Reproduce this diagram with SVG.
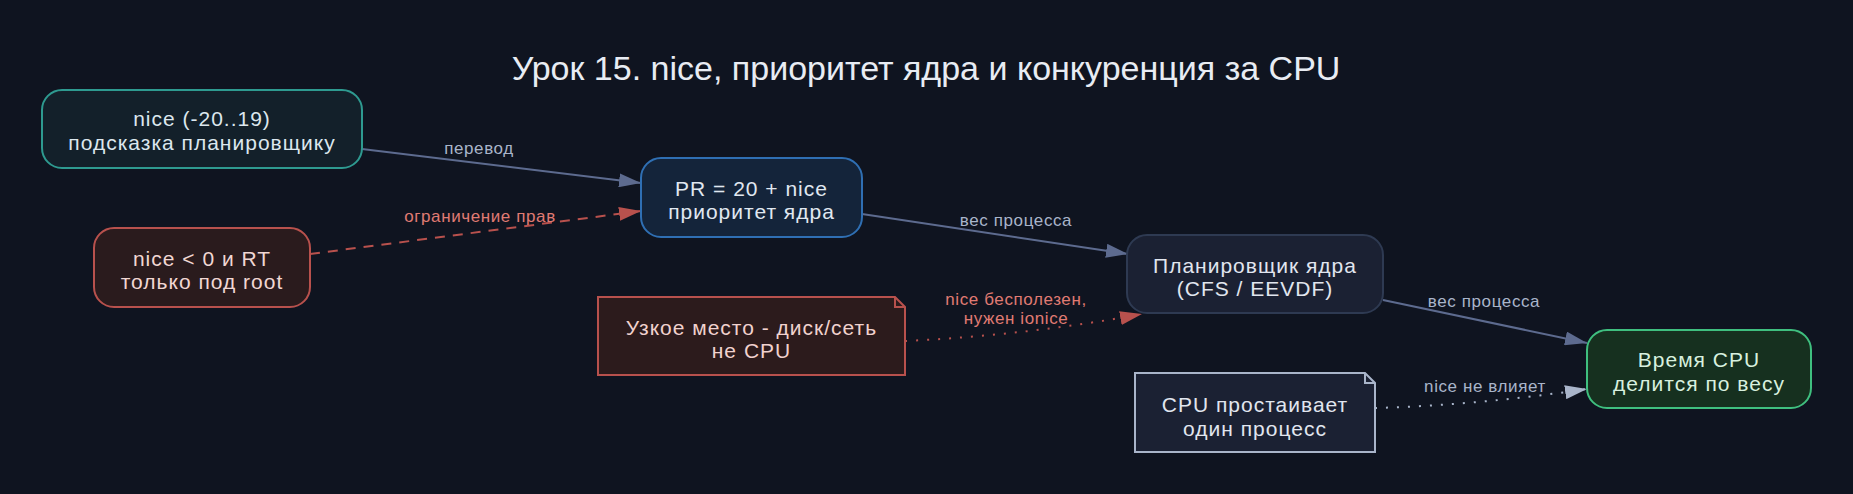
<svg xmlns="http://www.w3.org/2000/svg" width="1853" height="494" viewBox="0 0 1853 494">
<style>
text{font-family:"Liberation Sans",Arial,sans-serif;text-anchor:middle}
.n{font-size:21px;letter-spacing:1px}
.l{font-size:17px;letter-spacing:0.6px}
.t{font-size:34px;fill:#e8ecf3}
.e{fill:none;stroke:#5d6b8f;stroke-width:2}
.r{fill:none;stroke:#b8514d;stroke-width:2}
.g{fill:none;stroke:#a9b5ca;stroke-width:2}
</style>
<defs>
<marker id="ar" viewBox="0 0 22 14" refX="22" refY="7" markerWidth="22" markerHeight="14" markerUnits="userSpaceOnUse" orient="auto"><path d="M0,0L22,7L0,14z" fill="#b8514d"/></marker>
<marker id="ab" viewBox="0 0 22 14" refX="22" refY="7" markerWidth="22" markerHeight="14" markerUnits="userSpaceOnUse" orient="auto"><path d="M0,0L22,7L0,14z" fill="#5d6b8f"/></marker>
<marker id="ag" viewBox="0 0 22 14" refX="22" refY="7" markerWidth="22" markerHeight="14" markerUnits="userSpaceOnUse" orient="auto"><path d="M0,0L22,7L0,14z" fill="#a9b5ca"/></marker>
</defs>
<rect width="1853" height="494" fill="#0f1420"/>
<text class="t" x="926" y="80">Урок 15. nice, приоритет ядра и конкуренция за CPU</text>
<g id="edges">
<path class="e" d="M362,149 L641,183" marker-end="url(#ab)"/>
<text class="l" x="479" y="154" fill="#a9b5ca">перевод</text>
<path class="r" d="M310,254 L641,211" stroke-dasharray="10,8" marker-end="url(#ar)"/>
<text class="l" x="480" y="222" fill="#e07b73">ограничение прав</text>
<path class="e" d="M862,214 L1128,254" marker-end="url(#ab)"/>
<text class="l" x="1016" y="226" fill="#a9b5ca">вес процесса</text>
<path class="e" d="M1383,300 L1587,343" marker-end="url(#ab)"/>
<text class="l" x="1484" y="307" fill="#a9b5ca">вес процесса</text>
<path class="r" d="M905,341 Q1030,335 1142,314" stroke-dasharray="2,9" marker-end="url(#ar)"/>
<text class="l" x="1016" y="305" fill="#e07b73">nice бесполезен,</text>
<text class="l" x="1016" y="324" fill="#e07b73">нужен ionice</text>
<path class="g" d="M1375,408 Q1480,405 1587,389" stroke-dasharray="2,9" marker-end="url(#ag)"/>
<text class="l" x="1485" y="392" fill="#a9b5ca">nice не влияет</text>
</g>
<g id="n_nice">
<rect x="42" y="90" width="320" height="78" rx="20" fill="#13202a" stroke="#2e9a90" stroke-width="2"/>
<text class="n" x="202" y="126" fill="#dce7ee">nice (-20..19)</text>
<text class="n" x="202" y="150" fill="#dce7ee">подсказка планировщику</text>
</g>
<g id="n_root">
<rect x="94" y="228" width="216" height="79" rx="20" fill="#2a1b1d" stroke="#b8514d" stroke-width="2"/>
<text class="n" x="202" y="266" fill="#f1d7d3">nice &lt; 0 и RT</text>
<text class="n" x="202" y="289" fill="#f1d7d3">только под root</text>
</g>
<g id="n_pr">
<rect x="641" y="158" width="221" height="79" rx="20" fill="#14243a" stroke="#2f6fb3" stroke-width="2"/>
<text class="n" x="751.5" y="196" fill="#e0e8f1">PR = 20 + nice</text>
<text class="n" x="751.5" y="219" fill="#e0e8f1">приоритет ядра</text>
</g>
<g id="n_sched">
<rect x="1127" y="235" width="256" height="78" rx="20" fill="#1b2133" stroke="#2e3a52" stroke-width="2"/>
<text class="n" x="1255" y="273" fill="#e1e6ef">Планировщик ядра</text>
<text class="n" x="1255" y="296" fill="#e1e6ef">(CFS / EEVDF)</text>
</g>
<g id="n_disk">
<path d="M598,297 H895 L905,307 V375 H598 Z" fill="#2c1b1c" stroke="#b8514d" stroke-width="2"/>
<path d="M895,297 V307 H905" fill="none" stroke="#b8514d" stroke-width="2"/>
<text class="n" x="751.5" y="335" fill="#f1d2ce">Узкое место - диск/сеть</text>
<text class="n" x="751.5" y="358" fill="#f1d2ce">не CPU</text>
</g>
<g id="n_idle">
<path d="M1135,373 H1365 L1375,383 V452 H1135 Z" fill="#1b2133" stroke="#a9b5ca" stroke-width="2"/>
<path d="M1365,373 V383 H1375" fill="none" stroke="#a9b5ca" stroke-width="2"/>
<text class="n" x="1255" y="412" fill="#e1e6ef">CPU простаивает</text>
<text class="n" x="1255" y="436" fill="#e1e6ef">один процесс</text>
</g>
<g id="n_time">
<rect x="1587" y="330" width="224" height="78" rx="20" fill="#16301f" stroke="#3fbf7f" stroke-width="2"/>
<text class="n" x="1699" y="367" fill="#d8f0df">Время CPU</text>
<text class="n" x="1699" y="391" fill="#d8f0df">делится по весу</text>
</g>
</svg>
